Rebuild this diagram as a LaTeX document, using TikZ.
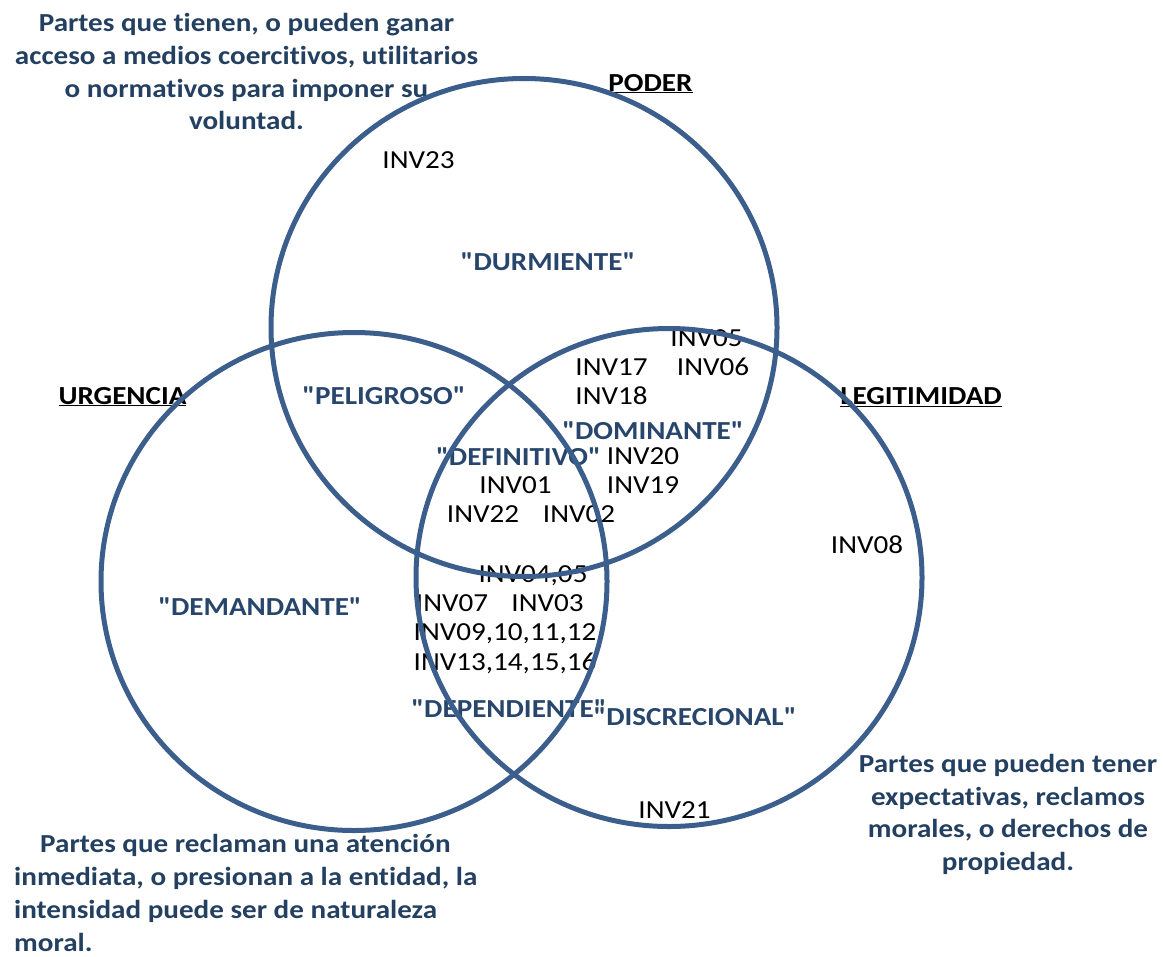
\documentclass[tikz,border=0pt]{standalone}
\usepackage{fontspec}
\setmainfont{Carlito}[FakeStretch=1.12, Ligatures={CommonOff, TeXOff}]
\definecolor{circblue}{RGB}{59,94,140}
\definecolor{txtblue}{RGB}{36,64,97}
\definecolor{lblblue}{RGB}{40,70,108}
\newcommand{\qq}{\char34}
\begin{document}
\begin{tikzpicture}[x=1pt,y=-1pt,
  inv/.style={font=\fontsize{26}{31}\selectfont, text=black, inner sep=0pt, text height=17pt, text depth=0pt},
  quoted/.style={font=\bfseries\fontsize{26}{30}\selectfont, text=lblblue, inner sep=0pt, text height=16.5pt, text depth=0pt},
  heading/.style={font=\bfseries\fontsize{26}{31}\selectfont, text=black, inner sep=0pt, text height=17pt, text depth=0pt},
  desc/.style={font=\bfseries\fontsize{26}{32.7}\selectfont, text=txtblue, inner sep=0pt},
  venn/.style={draw=circblue, line width=5pt}]
\useasboundingbox (0,0) rectangle (1164,956);

% descriptions
\node[desc, align=center, anchor=north] (descpoder) at (246.5,13.2)
  {Partes que tienen, o pueden ganar\\acceso a medios coercitivos, utilitarios\\o normativos para imponer su\\voluntad.};
\node[desc, align=left, anchor=north west] (descurg) at (14,834.5)
  {\hspace*{26pt}Partes que reclaman una atención\\inmediata, o presionan a la entidad, la\\intensidad puede ser de naturaleza\\moral.};
\node[desc, align=center, anchor=north] (desclegit) at (1008,754)
  {Partes que pueden tener\\expectativas, reclamos\\morales, o derechos de\\propiedad.};

% headings
\node[heading] (hpoder) at (650.5,82.5) {\underline{PODER}};
\node[heading] (hurg) at (122.5,395.5) {\underline{URGENCIA}};
\node[heading] (hlegit) at (921,396) {\underline{LEGITIMIDAD}};

% category labels
\node[quoted] (durmiente) at (548,262) {\qq DURMIENTE\qq};
\node[quoted] (peligroso) at (384,396) {\qq PELIGROSO\qq};
\node[quoted] (dominante) at (653,431) {\qq DOMINANTE\qq};
\node[quoted] (definitivo) at (518.5,457) {\qq DEFINITIVO\qq};
\node[quoted] (demandante) at (260,607) {\qq DEMANDANTE\qq};
\node[quoted] (dependiente) at (509,709.5) {\qq DEPENDIENTE\qq};
\node[quoted] (discrecional) at (695,717.5) {\qq DISCRECIONAL\qq};

% stakeholders
\node[inv] (i23) at (418.5,160) {INV23};
\node[inv] (i05) at (706.5,337.5) {INV05};
\node[inv] (i17) at (611.5,366.5) {INV17};
\node[inv] (i06) at (713,366.5) {INV06};
\node[inv] (i18) at (611.5,395.5) {INV18};
\node[inv] (i20) at (643,455.5) {INV20};
\node[inv] (i01) at (515.5,485) {INV01};
\node[inv] (i19) at (643,485) {INV19};
\node[inv] (i22) at (483,513.5) {INV22};
\node[inv] (i02) at (579,513.5) {INV02};
\node[inv] (i0405) at (533,573.5) {INV04,05};
\node[inv] (i07) at (452,603) {INV07};
\node[inv] (i03) at (547.5,603) {INV03};
\node[inv] (i0912) at (505,632) {INV09,10,11,12};
\node[inv] (i1316) at (505,662) {INV13,14,15,16};
\node[inv] (i08) at (867,544.5) {INV08};
\node[inv] (i21) at (674.5,810) {INV21};

% circles
\draw[venn] (524,327.5) ellipse [x radius=253pt, y radius=249pt];
\draw[venn] (354,581.5) ellipse [x radius=253pt, y radius=249pt];
\draw[venn] (669,577.5) ellipse [x radius=253pt, y radius=249pt];
\end{tikzpicture}
\end{document}
